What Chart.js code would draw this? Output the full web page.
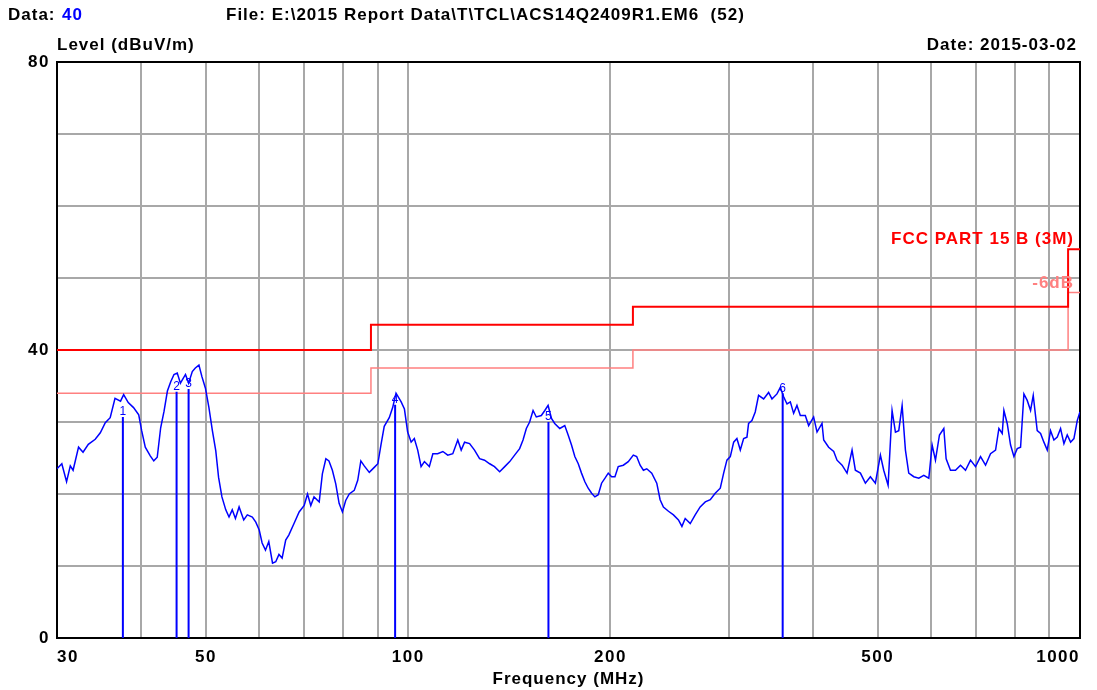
<!DOCTYPE html>
<html>
<head>
<meta charset="utf-8">
<script src="https://cdn.jsdelivr.net/npm/chart.js@4/dist/chart.umd.min.js"></script>
<style>
  body { margin: 0; background: #fff; }
  #wrap { width: 1097px; height: 690px; }
</style>
</head>
<body>
<div id="wrap"><canvas id="emi" width="1097" height="690"></canvas></div>
<script>
// 測定データ (MHz / dBuV/m)
const freq = [
  30.0, 30.5, 31.0, 31.4, 31.7, 32.3, 32.8, 33.4, 34.2, 34.8, 35.4, 36.0, 36.6, 37.3, 37.7, 38.3, 39.0, 39.7,
  40.1, 40.6, 41.3, 41.8, 42.3, 42.8, 43.3, 43.8, 44.3, 44.8, 45.3, 45.8, 46.6, 47.1, 47.7, 48.2, 48.8, 49.3, 49.9,
  50.5, 51.1, 51.7, 52.2, 52.8, 53.5, 54.1, 54.7, 55.3, 56.0, 56.9, 57.6, 58.6, 59.3,
  60.0, 60.6, 61.3, 62.0, 62.8, 63.5, 64.2, 64.9, 65.7, 66.4, 67.6, 68.8,
  70.0, 70.8, 71.6, 72.4, 73.7, 74.5, 75.4, 76.2, 77.1, 78.0, 78.9, 79.8,
  80.7, 81.7, 83.1, 84.1, 85.0, 86.0, 87.5, 89.0, 90.1, 91.1, 92.1, 93.7, 94.8, 95.9,
  97.6, 98.7, 99.8, 101.0, 102.1, 103.3, 104.5, 105.7, 107.5, 108.8, 110.6, 112.6, 114.5, 116.5, 118.5, 119.9,
  121.3, 123.4, 125.5, 127.7, 129.9, 132.2, 134.4, 136.8, 139.2, 141.6, 144.0, 146.5, 148.2, 149.9,
  151.6, 153.4, 155.1, 157.8, 159.7, 161.5, 163.4, 165.2, 168.1, 171.0, 173.0, 175.0, 177.0, 179.1,
  181.1, 183.2, 185.3, 187.5, 189.6, 191.8, 194.0, 196.3, 198.5, 200.8, 203.1, 205.4, 209.0, 212.6,
  216.3, 218.8, 221.4, 223.9, 226.5, 230.4, 234.4, 237.1, 239.8, 244.0, 248.2, 252.5, 255.5, 258.4,
  262.9, 267.4, 272.0, 276.8, 281.6, 286.4, 291.4, 294.8, 298.1, 301.6, 305.1,
  308.5, 312.1, 315.7, 319.3, 321.1, 324.8, 328.5, 332.3, 338.1, 343.9, 347.9, 353.9, 358.0, 362.1,
  366.3, 370.5, 374.7, 379.0, 383.4, 390.0, 394.5, 401.3, 406.0, 413.0, 415.4, 422.5, 429.9, 434.8,
  442.4, 450.0, 457.8, 463.0, 471.1, 479.2, 487.5, 495.9, 504.5, 510.3, 518.0, 525.1, 531.2, 537.3,
  543.5, 549.7, 556.0, 565.7, 575.5, 585.4, 595.6, 602.4, 609.3, 617.7, 627.0, 632.0, 641.5, 652.6,
  663.9, 675.4, 687.1, 699.0, 711.1, 723.4, 735.9, 748.7, 757.3, 766.0, 770.4, 779.2, 788.2, 797.3,
  806.4, 815.7, 825.1, 834.5, 844.1, 851.9, 863.6, 873.6, 883.6, 893.8, 904.0, 914.5, 925.0, 935.6,
  946.4, 957.2, 968.3, 979.4, 990.6, 999.7
];
const level = [
  23.5, 24.2, 21.7, 23.9, 23.3, 26.5, 25.8, 26.9, 27.6, 28.5, 29.9, 30.6, 33.3, 32.9, 33.8, 32.7, 32.0, 31.0,
  28.8, 26.5, 25.3, 24.6, 25.1, 29.2, 31.5, 34.3, 35.6, 36.6, 36.8, 35.4, 36.6, 35.4, 37.0, 37.5, 37.9, 36.3, 34.7,
  32.0, 28.8, 26.0, 22.3, 19.6, 17.8, 16.8, 17.8, 16.6, 18.2, 16.4, 17.1, 16.8, 16.1,
  15.0, 13.2, 12.2, 13.4, 10.4, 10.6, 11.6, 11.1, 13.6, 14.3, 15.9, 17.5,
  18.4, 20.0, 18.4, 19.6, 18.9, 22.8, 24.9, 24.6, 23.3, 21.4, 18.7, 17.5,
  19.1, 20.0, 20.5, 21.9, 24.6, 23.9, 23.0, 23.7, 24.2, 26.9, 29.4, 30.6, 32.0, 34.0,
  32.8, 31.8, 28.6, 27.2, 27.7, 26.1, 23.8, 24.5, 23.8, 25.6, 25.6, 25.9, 25.4, 25.6, 27.5, 26.1,
  27.2, 27.0, 26.1, 24.9, 24.7, 24.2, 23.8, 23.1, 23.8, 24.5, 25.4, 26.3, 27.5, 29.1,
  30.0, 31.6, 30.7, 30.9, 31.6, 32.3, 30.5, 29.8, 29.1, 29.5, 28.2, 26.8, 25.2, 24.2,
  22.9, 21.7, 20.8, 20.1, 19.6, 19.9, 21.5, 22.2, 22.9, 22.4, 22.4, 23.8, 24.0, 24.5,
  25.4, 25.2, 24.0, 23.3, 23.5, 22.9, 21.5, 19.2, 18.2, 17.6, 17.1, 16.4, 15.5, 16.6,
  15.9, 17.1, 18.2, 18.9, 19.2, 20.1, 20.8, 22.9, 24.7, 25.2, 27.2,
  27.7, 26.1, 27.7, 27.9, 29.8, 30.2, 31.4, 33.7, 33.2, 34.1, 33.2, 33.9, 34.8, 33.5,
  32.5, 32.8, 31.2, 32.3, 30.9, 30.9, 29.5, 30.7, 28.6, 29.8, 27.5, 26.5, 25.9, 24.7,
  24.0, 22.9, 26.1, 23.3, 22.9, 21.5, 22.4, 21.5, 25.4, 23.3, 21.2, 31.6, 28.6, 28.8,
  32.3, 26.1, 22.9, 22.4, 22.2, 22.6, 22.2, 26.8, 24.7, 28.2, 29.1, 24.9, 23.3, 23.3,
  24.0, 23.3, 24.7, 23.8, 25.2, 24.0, 25.6, 26.1, 29.1, 28.4, 31.6, 29.8, 26.8, 25.2,
  26.3, 26.5, 33.9, 33.0, 31.6, 33.7, 28.8, 28.4, 27.2, 26.1, 28.8, 27.5, 27.9, 29.1,
  27.0, 28.2, 27.2, 27.7, 30.2, 31.4
];

// FCC PART 15 B (3M) リミット
const limitFreq = [30, 88, 216, 960, 1000];
const limitLevel = [40, 43.5, 46, 54, 54];
const marginLevel = [34, 37.5, 40, 48, 48];

// マーカー
const markerNo = ['1', '2', '3', '4', '5', '6'];
const markerFreq = [37.6, 45.2, 47.1, 95.6, 161.7, 360.9];
const markerLevel = [30.7, 34.2, 34.6, 32.4, 30.0, 34.0];

// 軸目盛
const xGrid = [30, 40, 50, 60, 70, 80, 90, 100, 200, 300, 400, 500, 600, 700, 800, 900, 1000];
const xLabels = [30, 50, 100, 200, 500, 1000];
const yLabels = [0, 40, 80];

const FONT = '"Liberation Sans", Arial, sans-serif';

const markerPoints = [];
markerFreq.forEach((f, i) => {
    markerPoints.push({ x: f, y: 0 }, { x: f, y: markerLevel[i] }, { x: f, y: null });
});

const textPlugin = {
    id: 'texts',
    beforeDraw(chart) {
        // 目盛ラベルを少し広めに
        chart.ctx.letterSpacing = '1.5px';
    },
    beforeDatasetsDraw(chart) {
        const { ctx, chartArea: a } = chart;
        ctx.save();
        ctx.strokeStyle = '#000';
        ctx.lineWidth = 2;
        ctx.strokeRect(a.left, a.top, a.right - a.left, a.bottom - a.top);
        ctx.restore();
    },
    afterDraw(chart) {
        const { ctx, chartArea: a, scales } = chart;
        ctx.save();
        ctx.letterSpacing = '1px';
        ctx.font = 'bold 17px ' + FONT;
        ctx.textBaseline = 'alphabetic';
        ctx.fillStyle = '#000';
        ctx.textAlign = 'left';
        ctx.fillText('Data:', 8, 20);
        ctx.fillStyle = '#0000ff';
        ctx.fillText('40', 62, 20);
        ctx.fillStyle = '#000';
        ctx.fillText('File: E:\\2015 Report Data\\T\\TCL\\ACS14Q2409R1.EM6  (52)', 226, 20);
        ctx.fillText('Level (dBuV/m)', 57, 50);
        ctx.textAlign = 'right';
        ctx.fillText('Date: 2015-03-02', 1077, 50);
        ctx.textAlign = 'center';
        ctx.fillText('Frequency (MHz)', (a.left + a.right) / 2, 684);

        ctx.textAlign = 'right';
        ctx.fillStyle = '#ff0000';
        ctx.fillText('FCC PART 15 B (3M)', 1074, 244);
        ctx.fillStyle = '#ff8080';
        ctx.fillText('-6dB', 1074, 288);

        // マーカー番号
        ctx.letterSpacing = '0px';
        ctx.font = '12px ' + FONT;
        ctx.fillStyle = '#0000ff';
        ctx.textAlign = 'center';
        ctx.textBaseline = 'bottom';
        markerNo.forEach((n, i) => {
            const x = scales.x.getPixelForValue(markerFreq[i]);
            const y = scales.y.getPixelForValue(markerLevel[i]);
            ctx.fillText(n, x, y + 1);
        });
        ctx.restore();
    }
};

const ctx = document.getElementById('emi').getContext('2d');
new Chart(ctx, {
    type: 'line',
    data: {
        datasets: [
            {
                label: 'Level',
                data: freq.map((f, i) => ({ x: f, y: level[i] })),
                borderColor: '#0000ff',
                borderWidth: 1.5,
                pointRadius: 0,
                tension: 0
            },
            {
                label: 'Markers',
                data: markerPoints,
                borderColor: '#0000ff',
                borderWidth: 2,
                pointRadius: 0,
                spanGaps: false
            },
            {
                label: 'FCC PART 15 B (3M)',
                data: limitFreq.map((f, i) => ({ x: f, y: limitLevel[i] })),
                borderColor: '#ff0000',
                borderWidth: 2,
                pointRadius: 0,
                stepped: 'before'
            },
            {
                label: '-6dB',
                data: limitFreq.map((f, i) => ({ x: f, y: marginLevel[i] })),
                borderColor: '#ff8080',
                borderWidth: 1.5,
                pointRadius: 0,
                stepped: 'before'
            }
        ]
    },
    options: {
        responsive: false,
        animation: false,
        layout: { padding: { top: 62, right: 17, left: 0, bottom: 0 } },
        plugins: {
            legend: { display: false },
            tooltip: { enabled: false }
        },
        scales: {
            x: {
                type: 'logarithmic',
                min: 30,
                max: 1000,
                afterBuildTicks(scale) {
                    scale.ticks = xGrid.map(v => ({ value: v }));
                },
                afterFit(scale) { scale.height = 52; },
                border: { display: false },
                grid: { color: '#a8a8a8', lineWidth: 2, drawTicks: false },
                ticks: {
                    autoSkip: false,
                    maxRotation: 0,
                    align: 'inner',
                    padding: 9,
                    color: '#000',
                    font: { family: FONT, size: 17, weight: 'bold' },
                    callback: (v) => xLabels.includes(v) ? String(v) : ''
                }
            },
            y: {
                min: 0,
                max: 80,
                afterFit(scale) { scale.width = 57; },
                border: { display: false },
                grid: { color: '#a8a8a8', lineWidth: 2, drawTicks: false },
                ticks: {
                    stepSize: 10,
                    padding: 7,
                    color: '#000',
                    font: { family: FONT, size: 17, weight: 'bold' },
                    callback: (v) => yLabels.includes(v) ? String(v) : ''
                }
            }
        }
    },
    plugins: [textPlugin]
});
</script>
</body>
</html>
